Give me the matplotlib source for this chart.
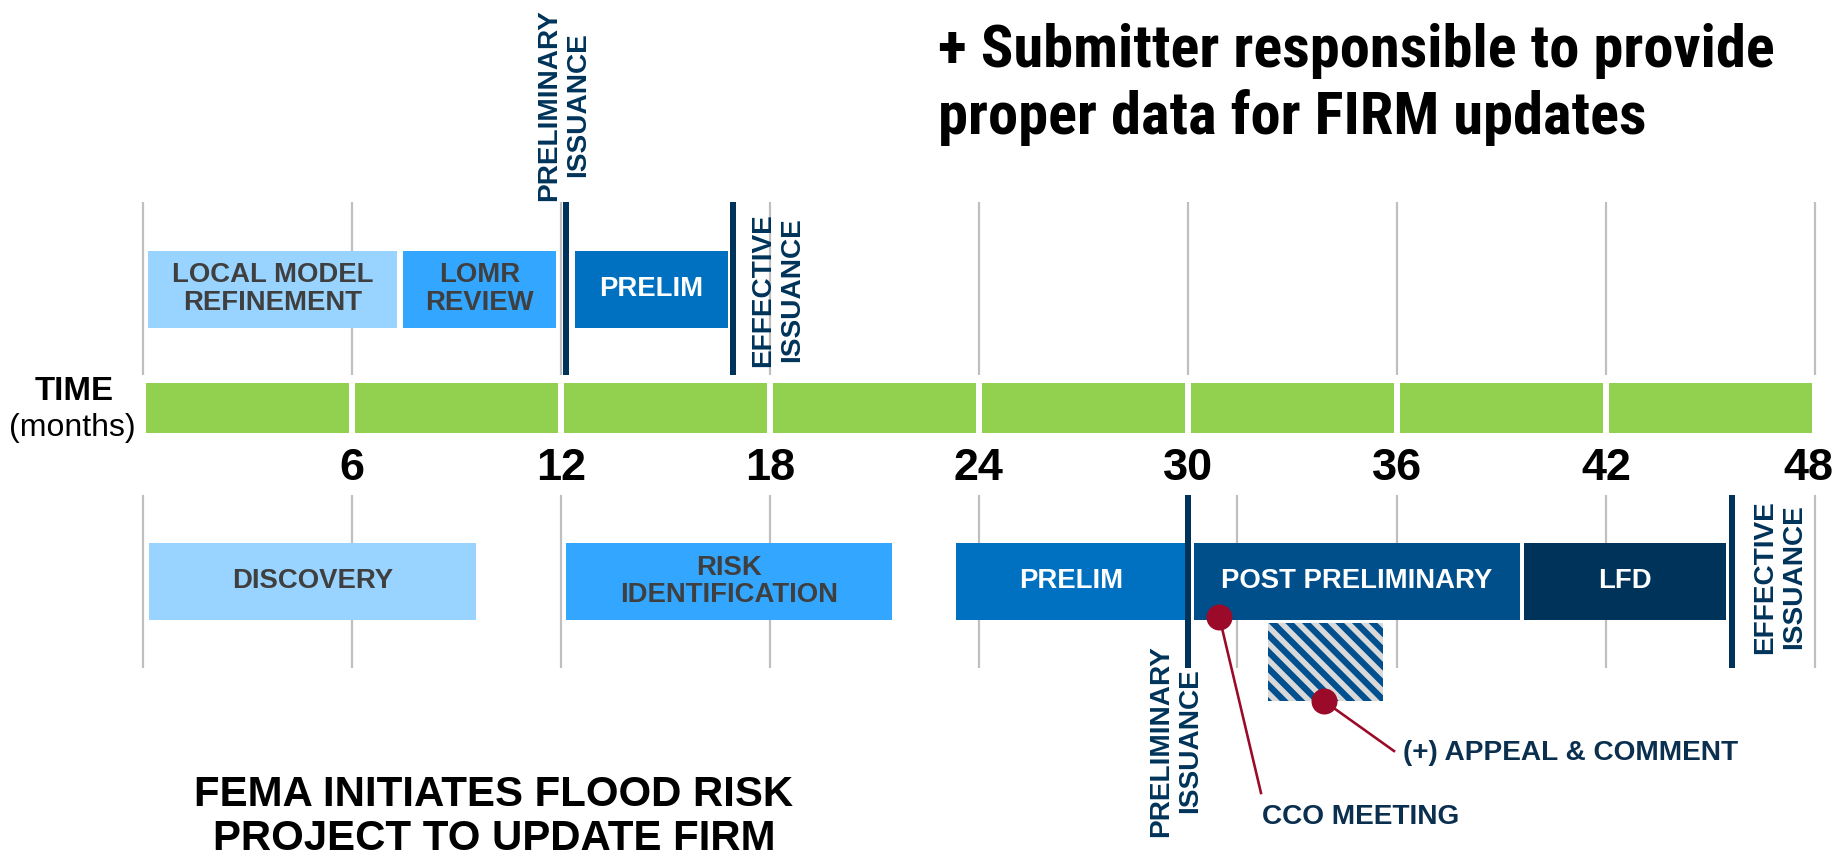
import matplotlib
matplotlib.use("Agg")
import matplotlib.pyplot as plt
from matplotlib import font_manager as fm
from matplotlib.patches import Rectangle

# ---------------- data ----------------
tick_months = [6, 12, 18, 24, 30, 36, 42, 48]
tick_labels = ["6", "12", "18", "24", "30", "36", "42", "48"]
grid_top_months = [0, 6, 12, 18, 24, 30, 36, 42, 48]
grid_bottom_months = [0, 6, 12, 18, 24, 31.4, 36, 42, 48]
time_block_start = [0, 6, 12, 18, 24, 30, 36, 42]
time_block_end = [6, 12, 18, 24, 30, 36, 42, 48]

top_phase_labels = ["LOCAL MODEL\nREFINEMENT", "LOMR\nREVIEW", "PRELIM"]
top_phase_start = [0.17, 7.47, 12.40]
top_phase_end = [7.30, 11.87, 16.80]
top_phase_colors = ["#99D3FF", "#33A6FF", "#0070C0"]
top_phase_text = ["#3F3F3F", "#3F3F3F", "white"]

bottom_phase_labels = ["DISCOVERY", "RISK\nIDENTIFICATION", "PRELIM",
                       "POST PRELIMINARY", "LFD"]
bottom_phase_start = [0.20, 12.14, 23.35, 30.16, 39.63]
bottom_phase_end = [9.57, 21.50, 29.95, 39.54, 45.45]
bottom_phase_colors = ["#99D3FF", "#33A6FF", "#0070C0", "#004F8A", "#00335A"]
bottom_phase_text = ["#3F3F3F", "#3F3F3F", "white", "white", "white"]

top_milestone_months = [12.16, 16.93]
bottom_milestone_months = [30.0, 45.62]
milestone_labels = ["PRELIMINARY\nISSUANCE", "EFFECTIVE\nISSUANCE"]

appeal_window = [32.3, 35.6]
cco_month = 30.9
appeal_dot_month = 33.9

# ---------------- layout helpers ----------------
DPI = 100
W, H = 1845, 860
X0, PPM = 142.5, 34.85            # pixel of month 0, pixels per month


def pt(px):
    return px * 72.0 / DPI


def mx(px):
    return (px - X0) / PPM


plt.rcParams["font.family"] = ["Liberation Sans", "DejaVu Sans"]
plt.rcParams["hatch.linewidth"] = 4.5

names = {f.name for f in fm.fontManager.ttflist}
TITLE_FONT = None
for cand in ["Roboto Condensed", "PT Sans Narrow", "Archivo Narrow"]:
    if cand in names:
        TITLE_FONT = cand
        break

NAVY = "#003359"
TXT_NAVY = "#0A2F4F"
GRID = "#BFBFBF"
RED = "#9B0A28"

fig = plt.figure(figsize=(W / DPI, H / DPI), dpi=DPI)
ax = fig.add_axes([0, 0, 1, 1])
ax.set_xlim(mx(0), mx(W))
ax.set_ylim(H, 0)
ax.axis("off")

# gridlines
for m in grid_top_months:
    ax.plot([m, m], [202, 375], color=GRID, lw=pt(2.2), zorder=1,
            solid_capstyle="butt")
for m in grid_bottom_months:
    ax.plot([m, m], [495, 668], color=GRID, lw=pt(2.2), zorder=1,
            solid_capstyle="butt")

# time bar
gap = 3.0 / PPM
for s, e in zip(time_block_start, time_block_end):
    ax.barh(408, (e - gap) - (s + gap), left=s + gap, height=50,
            color="#92D050", zorder=2)

for m, lab in zip(tick_months, tick_labels):
    ax.text(m - (0.2 if m == 48 else 0), 468, lab, ha="center", va="center",
            fontsize=pt(45), fontweight="bold", color="black")

ax.text(mx(74), 392, "TIME", ha="center", va="center", fontsize=pt(33),
        fontweight="bold", color="black")
ax.text(mx(72), 428, "(months)", ha="center", va="center", fontsize=pt(32),
        color="black")

# phases
for lab, s, e, c, tc in zip(top_phase_labels, top_phase_start, top_phase_end,
                            top_phase_colors, top_phase_text):
    ax.barh(289, e - s, left=s, height=77, color=c, zorder=3)
    ax.text((s + e) / 2, 289, lab, ha="center", va="center",
            fontsize=pt(27.5), fontweight="bold", color=tc, zorder=4,
            linespacing=1.05)

for lab, s, e, c, tc in zip(bottom_phase_labels, bottom_phase_start,
                            bottom_phase_end, bottom_phase_colors,
                            bottom_phase_text):
    ax.barh(581.5, e - s, left=s, height=77, color=c, zorder=3)
    ax.text((s + e) / 2, 581.5, lab, ha="center", va="center",
            fontsize=pt(27.5), fontweight="bold", color=tc, zorder=4,
            linespacing=1.05)

# milestones
for m in top_milestone_months:
    ax.plot([m, m], [202, 375], color=NAVY, lw=pt(6), zorder=5,
            solid_capstyle="butt")
for m in bottom_milestone_months:
    ax.plot([m, m], [495, 668], color=NAVY, lw=pt(6), zorder=5,
            solid_capstyle="butt")

ms_kw = dict(ha="center", va="center", rotation=90, fontsize=pt(28),
             fontweight="bold", color=NAVY, multialignment="center",
             linespacing=1.15, zorder=6)
ax.text(mx(564), 105, milestone_labels[0], **ms_kw)
ax.text(mx(778), 290, milestone_labels[1], **ms_kw)
ax.text(mx(1176), 741, milestone_labels[0], **ms_kw)
ax.text(mx(1780), 577, milestone_labels[1], **ms_kw)

# appeal & comment window
ax.add_patch(Rectangle((appeal_window[0], 623),
                       appeal_window[1] - appeal_window[0], 78,
                       facecolor="#D9D9D9", edgecolor="#00508F",
                       hatch="\\\\", linewidth=0, zorder=3))

# callouts
ax.plot([cco_month, mx(1261)], [617, 793], color=RED, lw=pt(2.6), zorder=7)
ax.plot([appeal_dot_month, mx(1394)], [701, 751], color=RED, lw=pt(2.6),
        zorder=7)
ax.plot([cco_month], [617], "o", ms=pt(26), color=RED, mew=0, zorder=8)
ax.plot([appeal_dot_month], [701], "o", ms=pt(26), color=RED, mew=0,
        zorder=8)
ax.text(mx(1262), 817, "CCO MEETING", ha="left", va="center",
        fontsize=pt(28), fontweight="bold", color=TXT_NAVY, zorder=8)
ax.text(mx(1403), 753, "(+) APPEAL & COMMENT", ha="left", va="center",
        fontsize=pt(28), fontweight="bold", color=TXT_NAVY, zorder=8)

# headline texts
if TITLE_FONT:
    title_kw = dict(family=[TITLE_FONT, "Liberation Sans", "DejaVu Sans"],
                    fontsize=pt(60.5))
else:
    title_kw = dict(fontsize=pt(50))
ax.text(mx(938), 67, "+ Submitter responsible to provide", ha="left",
        va="baseline", fontweight="bold", color="black", **title_kw)
ax.text(mx(938), 134, "proper data for FIRM updates", ha="left",
        va="baseline", fontweight="bold", color="black", **title_kw)

ax.text(mx(494), 795, "FEMA INITIATES FLOOD RISK", ha="center",
        va="center", fontsize=pt(42), fontweight="bold", color="black")
ax.text(mx(494), 839, "PROJECT TO UPDATE FIRM", ha="center",
        va="center", fontsize=pt(42), fontweight="bold", color="black")

fig.savefig("out.png", dpi=DPI, facecolor="white")
